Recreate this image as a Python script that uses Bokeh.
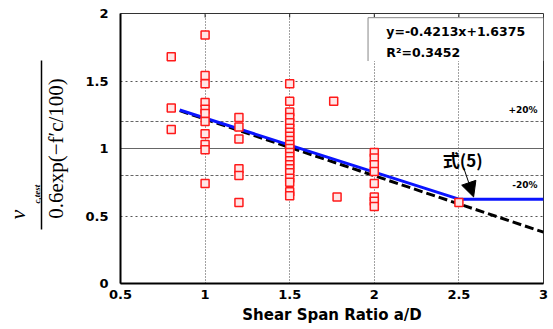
from bokeh.plotting import figure
from bokeh.models import (Range1d, LinearAxis, FixedTicker, CustomJSTickFormatter,
                          Span, Label, Arrow, NormalHead, Title)
from bokeh.embed import file_html
from bokeh.resources import INLINE

# ---- data ----
shear_span = [0.8, 0.8, 0.8,
              1.0, 1.0, 1.0, 1.0, 1.0, 1.0, 1.0, 1.0, 1.0, 1.0, 1.0,
              1.2, 1.2, 1.2, 1.2, 1.2, 1.2,
              1.5, 1.5, 1.5, 1.5, 1.5, 1.5, 1.5, 1.5, 1.5, 1.5, 1.5,
              1.5, 1.5, 1.5, 1.5, 1.5, 1.5, 1.5, 1.5, 1.5, 1.5,
              1.76, 1.78,
              2.0, 2.0, 2.0, 2.0, 2.0, 2.0, 2.0, 2.0,
              2.5]
v_ratio = [1.68, 1.30, 1.14,
           1.84, 1.54, 1.48, 1.34, 1.29, 1.26, 1.20, 1.11, 1.03, 0.99, 0.74,
           1.23, 1.16, 1.07, 0.85, 0.80, 0.60,
           1.48, 1.35, 1.27, 1.23, 1.19, 1.15, 1.12, 1.09, 1.06, 1.03, 1.00,
           0.97, 0.94, 0.91, 0.88, 0.85, 0.82, 0.78, 0.75, 0.68, 0.65,
           1.35, 0.64,
           0.97, 0.93, 0.88, 0.83, 0.74, 0.64, 0.61, 0.57,
           0.60]

# regression line (black dashed) y=-0.4213x+1.6375
reg_x = [0.85, 3.0]
reg_y = [1.28, 0.38]

# Eq.(5) model line (blue)
model_x = [0.85, 2.5, 3.0]
model_y = [1.285, 0.625, 0.625]

x_ticks = [0.5, 1, 1.5, 2, 2.5, 3]
y_ticks = [0, 0.5, 1, 1.5, 2]
top_ticks = [1, 1.5, 2, 2.5]
eq_text = "y=-0.4213x+1.6375"
r2_text = "R\u00b2=0.3452"
x_title = "Shear Span Ratio a/D"
y_den = "0.6exp(\u2212f\u2032c/100)"
y_num = "v"
y_num_sub = "c,test"

BOLD = "DejaVu Sans"

p = figure(width=553, height=329, x_range=Range1d(0.5, 3), y_range=Range1d(0, 2),
           output_backend="svg", toolbar_location=None,
           min_border_left=120, min_border_right=10, min_border_top=13, min_border_bottom=46)
p.background_fill_color = "white"
p.border_fill_color = "white"
p.outline_line_color = "#333333"
p.outline_line_width = 1

fmt = CustomJSTickFormatter(code="return String(tick)")

# x axis
xa = p.xaxis[0]
xa.ticker = FixedTicker(ticks=x_ticks)
xa.formatter = fmt
xa.axis_line_width = 2
xa.axis_line_color = "black"
xa.major_tick_out = 0
xa.major_tick_in = 0
xa.minor_tick_line_color = None
xa.major_label_text_font = BOLD
xa.major_label_text_font_style = "bold"
xa.major_label_text_font_size = "13px"
xa.major_label_text_color = "black"
xa.major_label_standoff = 6
xa.axis_label = x_title
xa.axis_label_text_font = BOLD
xa.axis_label_text_font_style = "bold"
xa.axis_label_text_font_size = "15px"
xa.axis_label_text_color = "black"
xa.axis_label_standoff = 4

# y axis (denominator of the title as its label)
ya = p.yaxis[0]
ya.ticker = FixedTicker(ticks=y_ticks)
ya.formatter = fmt
ya.axis_line_width = 2
ya.axis_line_color = "black"
ya.major_tick_out = 0
ya.major_tick_in = 0
ya.minor_tick_line_color = None
ya.major_label_text_font = BOLD
ya.major_label_text_font_style = "bold"
ya.major_label_text_font_size = "13px"
ya.major_label_text_color = "black"
ya.major_label_standoff = 12
ya.axis_label = y_den
ya.axis_label_text_font = "Liberation Serif"
ya.axis_label_text_font_style = "normal"
ya.axis_label_text_font_size = "21px"
ya.axis_label_text_color = "black"
ya.axis_label_standoff = 14

# fraction bar as a bounded extra axis line
bar_axis = LinearAxis(ticker=FixedTicker(ticks=[]), bounds=(0.40, 1.65),
                      axis_line_width=1.5, axis_line_color="black",
                      major_tick_out=0, major_tick_in=0, minor_tick_line_color=None)
p.add_layout(bar_axis, "left")

# numerator: subscript then main letter, as side titles placed near the frame bottom
p.add_layout(Title(text=y_num_sub, align="left", offset=80, standoff=0,
                   text_font="Liberation Serif", text_font_style="bold italic",
                   text_font_size="9px", text_color="black"), "left")
p.add_layout(Title(text=y_num, align="left", offset=64, standoff=0,
                   text_font="Liberation Serif", text_font_style="italic",
                   text_font_size="22px", text_color="black"), "left")

# grids
p.xgrid.ticker = FixedTicker(ticks=top_ticks)
p.xgrid.grid_line_color = "#444444"
p.xgrid.grid_line_dash = "1 2"
p.xgrid.grid_line_width = 1
p.ygrid.ticker = FixedTicker(ticks=[0.5, 1.5])
p.ygrid.grid_line_color = "#555555"
p.ygrid.grid_line_dash = "2 3"
p.ygrid.grid_line_width = 1

for yv, dash in [(1.2, "3 2"), (0.8, "3 2"), (1.0, "solid")]:
    p.add_layout(Span(location=yv, dimension="width", line_color="#666666",
                      line_dash=dash, line_width=1.2, level="underlay"))

# inward tick marks along the top border
p.segment(x0=top_ticks, x1=top_ticks, y0=[2.0] * len(top_ticks), y1=[1.97] * len(top_ticks),
          line_color="#222222", line_width=1)

# legend box (white, covering grid)
box_l, box_r, box_b, box_t = 1.963, 3.0, 1.648, 1.969
p.quad(left=[box_l], right=[box_r], bottom=[box_b], top=[box_t],
       fill_color="white", line_color=None)
p.multi_line(xs=[[box_l, box_l], [box_l, box_r]], ys=[[box_b, box_t], [box_t, box_t]],
             line_color="#888888", line_width=1)

# lines
p.line(reg_x, reg_y, line_color="black", line_width=3, line_dash="9 4")
p.line(model_x, model_y, line_color="#0a14ff", line_width=3)

# points
p.scatter(shear_span, v_ratio, marker="square", size=8, line_color="#ff1a1a",
          line_width=1.5, fill_color="#ffe6e6")

# texts
def lab(x, y, text, size, font=BOLD, style="bold", align="left"):
    p.add_layout(Label(x=x, y=y, text=text, text_font=font, text_font_style=style,
                       text_font_size=size, text_color="black",
                       text_baseline="middle", text_align=align))

lab(2.071, 1.87, eq_text, "12.5px")
lab(2.071, 1.713, r2_text, "12.5px")
lab(2.965, 1.283, "+20%", "9px", align="right")
lab(2.965, 0.728, "-20%", "9px", align="right")
lab(2.523, 0.92, "\u5f0f(5)", "17px", font="Noto Sans CJK JP", align="center")
p.add_layout(Arrow(end=NormalHead(size=15, fill_color="black", line_color="black"),
                   x_start=2.528, y_start=0.858, x_end=2.587, y_end=0.641,
                   line_color="black", line_width=1))

open("out.html", "w").write(file_html(p, INLINE))
